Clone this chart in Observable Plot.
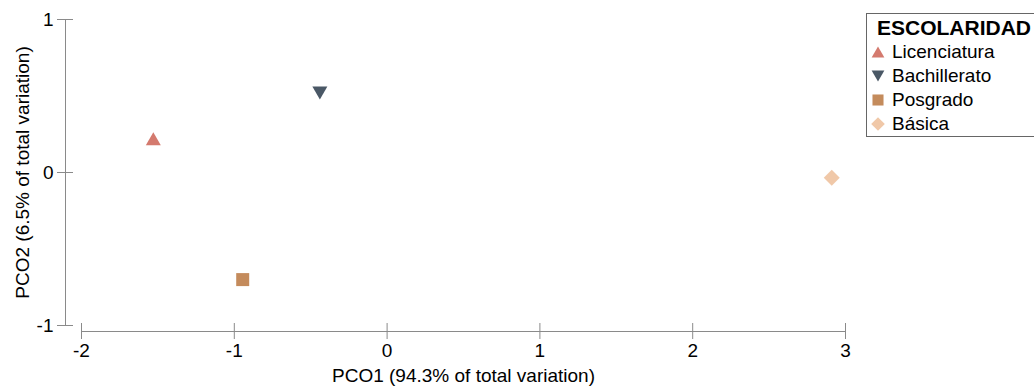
<!DOCTYPE html>
<html>
<head>
<meta charset="utf-8">
<script src="https://cdn.jsdelivr.net/npm/d3@7"></script>
<script src="https://cdn.jsdelivr.net/npm/@observablehq/plot@0.6"></script>
<style>
  html, body { margin: 0; padding: 0; background: white; overflow: hidden; }
  #wrap { position: relative; width: 1034px; height: 386px; overflow: hidden; font-family: "Liberation Sans", Arial, sans-serif; color: black; }
  #legend { position: absolute; left: 866px; top: 13px; width: 200px; height: 122px; border: 1px solid #666; background: white; }
  #legend .title { position: absolute; left: 10px; top: 2px; font-size: 21px; font-weight: bold; line-height: 24px; white-space: nowrap; }
  #legend .row { position: absolute; left: 0; height: 24px; width: 190px; }
  #legend .row span { position: absolute; left: 25px; top: 0; font-size: 19px; line-height: 24px; white-space: nowrap; }
  #legend .row svg { position: absolute; left: 3px; top: 4px; overflow: visible; }
</style>
</head>
<body>
<div id="wrap"></div>
<script>
// ---- data ----
const categories = ["Licenciatura", "Bachillerato", "Posgrado", "Básica"];
const pco1 = [-1.53, -0.44, -0.945, 2.91];
const pco2 = [0.22, 0.52, -0.70, -0.035];
const xTicks = [-2, -1, 0, 1, 2, 3];
const yTicks = [-1, 0, 1];
const legendTitle = "ESCOLARIDAD";
const xLabel = "PCO1 (94.3% of total variation)";
const yLabel = "PCO2 (6.5% of total variation)";

// ---- styles ----
const colors = ["#d47a6e", "#4a5866", "#c48b5c", "#f0c8a8"];
const axisColor = "#8a8a8a";
const triUp = { draw(c) { c.moveTo(0, -6.5); c.lineTo(7.5, 6.5); c.lineTo(-7.5, 6.5); c.closePath(); } };
const triDown = { draw(c) { c.moveTo(0, 6.5); c.lineTo(7.5, -6.5); c.lineTo(-7.5, -6.5); c.closePath(); } };
const square = { draw(c) { c.rect(-6.5, -6.5, 13, 13); } };
const diamond = { draw(c) { c.moveTo(0, -8); c.lineTo(8, 0); c.lineTo(0, 8); c.lineTo(-8, 0); c.closePath(); } };
const symbols = [triUp, triDown, square, diamond];

const data = categories.map((c, i) => ({ cat: c, x: pco1[i], y: pco2[i] }));
const fmt = d => String(d);

const chart = Plot.plot({
  width: 1034,
  height: 386,
  marginLeft: 81,
  marginRight: 189,
  marginTop: 19,
  marginBottom: 61,
  x: { domain: [-2, 3] },
  y: { domain: [-1, 1] },
  color: { domain: categories, range: colors },
  symbol: { domain: categories, range: symbols },
  style: { fontFamily: "'Liberation Sans', Arial, sans-serif", fontSize: "19px", color: "black", background: "white" },
  marks: [
    Plot.ruleX([-2], { y1: -1, y2: 1, dx: -16, stroke: axisColor }),
    Plot.axisY({ ticks: yTicks, tickSize: 16, tickPadding: 4, dx: -8, tickFormat: fmt, stroke: axisColor, fill: "black", fontSize: 19, label: null }),
    Plot.ruleY([-1], { x1: -2, x2: 3, dy: 6, stroke: axisColor }),
    Plot.axisX({ ticks: xTicks, tickSize: 16, tickPadding: 4, dy: -2, tickFormat: fmt, stroke: axisColor, fill: "black", fontSize: 19, label: null }),
    Plot.text([xLabel], { frameAnchor: "bottom", dy: 50, text: d => d, fontSize: 19, fill: "black", lineAnchor: "middle", textAnchor: "middle" }),
    Plot.text([yLabel], { frameAnchor: "left", dx: -59, rotate: -90, text: d => d, fontSize: 19, fill: "black", lineAnchor: "middle", textAnchor: "middle" }),
    Plot.dot(data, { x: "x", y: "y", symbol: "cat", fill: "cat", r: 7 })
  ]
});

const wrap = document.getElementById("wrap");
wrap.appendChild(chart);

// ---- legend ----
const legend = document.createElement("div");
legend.id = "legend";
const t = document.createElement("div");
t.className = "title";
t.textContent = legendTitle;
legend.appendChild(t);
categories.forEach((c, i) => {
  const row = document.createElement("div");
  row.className = "row";
  row.style.top = (26.4 + i * 24) + "px";
  const p = d3.path();
  symbols[i].draw(p);
  const svg = d3.create("svg").attr("width", 16).attr("height", 16).attr("viewBox", "-8 -8 16 16");
  svg.append("path").attr("d", p.toString()).attr("fill", colors[i]).attr("transform", "scale(0.85)");
  row.appendChild(svg.node());
  const s = document.createElement("span");
  s.textContent = c;
  row.appendChild(s);
  legend.appendChild(row);
});
wrap.appendChild(legend);
</script>
</body>
</html>
